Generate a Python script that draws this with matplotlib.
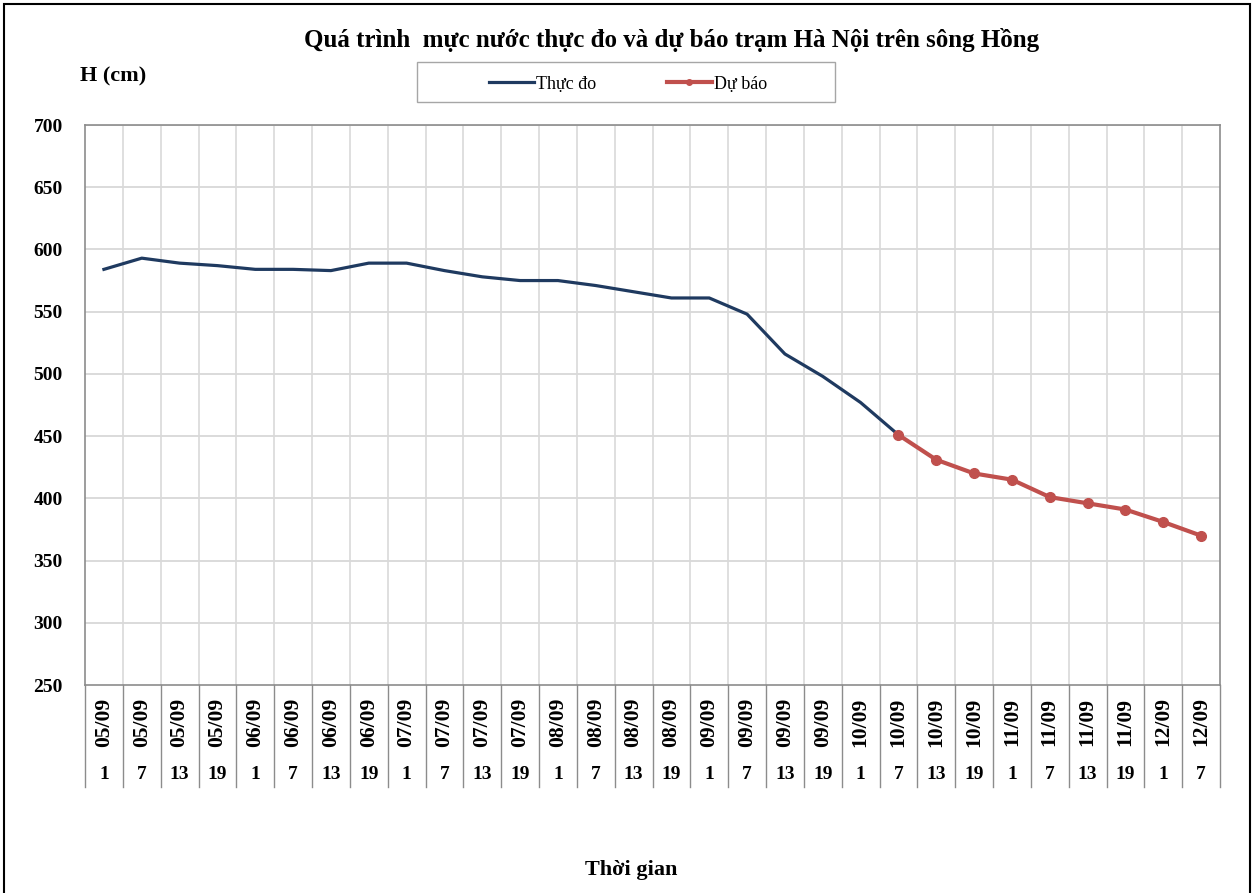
import matplotlib.pyplot as plt
import matplotlib.transforms as mtransforms
from matplotlib.patches import Rectangle

plt.rcParams['font.family'] = ['Liberation Serif', 'DejaVu Serif']

# data
dates = ['05/09'] * 4 + ['06/09'] * 4 + ['07/09'] * 4 + ['08/09'] * 4 + \
        ['09/09'] * 4 + ['10/09'] * 4 + ['11/09'] * 4 + ['12/09'] * 2
hours = ['1', '7', '13', '19'] * 7 + ['1', '7']
measured = [584, 593, 589, 587, 584, 584, 583, 589, 589, 583, 578, 575,
            575, 571, 566, 561, 561, 548, 516, 498, 477, 451]
forecast = [451, 431, 420, 415, 401, 396, 391, 381, 370]
forecast_start = 21

fig = plt.figure(figsize=(12.56, 8.93), dpi=100)
ax = fig.add_axes([85 / 1256, 1 - 685 / 893, (1220 - 85) / 1256, (685 - 125) / 893])

n = len(dates)
x_meas = list(range(len(measured)))
x_fc = list(range(forecast_start, forecast_start + len(forecast)))

ax.plot(x_meas, measured, color='#1F3A60', lw=2.3, label='Thực đo', zorder=3)
ax.plot(x_fc, forecast, color='#C0504D', lw=3, marker='o', ms=7,
        label='Dự báo', zorder=4)

ax.set_xlim(-0.5, n - 0.5)
ax.set_ylim(250, 700)
ax.set_yticks(range(250, 701, 50))
ax.tick_params(axis='y', labelsize=14, length=0, pad=16)
for t in ax.get_yticklabels():
    t.set_fontweight('bold')
ax.set_xticks([])

# grid
for v in range(300, 701, 50):
    ax.axhline(v, color='#D4D4D4', lw=1.2, zorder=1)
for i in range(1, n):
    ax.axvline(i - 0.5, color='#D9D9D9', lw=1.2, zorder=1)
for s in ax.spines.values():
    s.set_color('#8C8C8C')
    s.set_linewidth(1.2)

# two-level category labels
trans = mtransforms.blended_transform_factory(ax.transData, ax.transAxes)
for i in range(n + 1):
    ax.plot([i - 0.5, i - 0.5], [0, -0.183], color='#8C8C8C', lw=1,
            transform=trans, clip_on=False)
for i, (d, h) in enumerate(zip(dates, hours)):
    ax.text(i, -0.066, d, transform=trans, rotation=90, ha='center',
            va='center', fontsize=15.5, fontweight='bold')
    ax.text(i, -0.159, h, transform=trans, ha='center', va='center',
            fontsize=14, fontweight='bold')

fig.text(672 / 1256, 1 - 40 / 893, 'Quá trình  mực nước thực đo và dự báo trạm Hà Nội trên sông Hồng',
         ha='center', va='center', fontsize=18, fontweight='bold')
fig.text(80 / 1256, 1 - 76 / 893, 'H (cm)', ha='left', va='center',
         fontsize=16, fontweight='bold')
fig.text(631 / 1256, 1 - 870 / 893, 'Thời gian', ha='center', va='center',
         fontsize=16, fontweight='bold')

leg = fig.legend(loc='center', bbox_to_anchor=(628 / 1256, 1 - 84 / 893),
                 ncol=2, fontsize=13, frameon=False, columnspacing=3.9,
                 handlelength=2.5, handletextpad=0.1)
for h in leg.legend_handles:
    h.set_markersize(4)

# legend box and outer chart border
fig.patches.append(Rectangle((417 / 1256, 1 - 102 / 893), 418 / 1256, 40 / 893,
                             transform=fig.transFigure, fill=False,
                             edgecolor='#A6A6A6', lw=1))
fig.patches.append(Rectangle((4 / 1256, -0.01), 1246 / 1256, 1 - 4 / 893 + 0.01,
                             transform=fig.transFigure, fill=False,
                             edgecolor='black', lw=1.5))

fig.savefig('out.png', dpi=100)
